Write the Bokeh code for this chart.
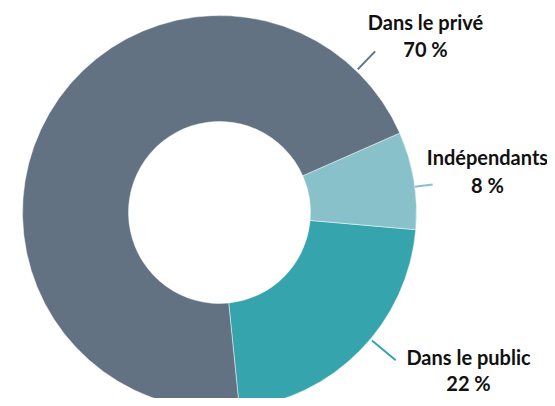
import math
from bokeh.plotting import figure
from bokeh.models import Range1d, ColumnDataSource
from bokeh.core.properties import value
from bokeh.embed import file_html
from bokeh.resources import INLINE

# data (drawn anticlockwise starting at the bottom)
categories = ["Dans le public", "Indépendants", "Dans le privé"]
shares = [22, 8, 70]
pct_labels = ["22 %", "8 %", "70 %"]
colors = ["#35a4ac", "#88c1c9", "#627282"]

# layout constants
W, H = 547, 398
cx, cy = 219, 186
r_in, r_out = 91, 197
start_deg = -84.2
label_angle = [-40.0, 7.5, 46.0]        # leader line angles (deg)
leader_r = [(199, 230), (197, 215), (199, 224)]
label_pos = [(468, 42, 16), (487, 242, 214), (425, 377, 350)]  # x, baseline1, baseline2

total = sum(shares)
starts, ends = [], []
a = math.radians(start_deg)
for s in shares:
    starts.append(a)
    a += 2 * math.pi * s / total
    ends.append(a)

src = ColumnDataSource(dict(start=starts, end=ends, color=colors))

p = figure(width=W, height=H, output_backend="svg", toolbar_location=None,
           x_range=Range1d(0, W), y_range=Range1d(0, H), min_border=0)
p.axis.visible = False
p.grid.visible = False
p.outline_line_color = None
p.background_fill_color = "white"

p.annular_wedge(x=cx, y=cy, inner_radius=r_in, outer_radius=r_out,
                start_angle="start", end_angle="end", direction="anticlock",
                fill_color="color", line_color="white", line_width=0.8, line_alpha=0.6,
                source=src)

font = value("Lato")
for i in range(3):
    ang = math.radians(label_angle[i])
    r0, r1 = leader_r[i]
    p.line([cx + r0 * math.cos(ang), cx + r1 * math.cos(ang)],
           [cy + r0 * math.sin(ang), cy + r1 * math.sin(ang)],
           line_color=colors[i], line_width=2)
    x, b1, b2 = label_pos[i]
    p.text(x=[x, x], y=[b1, b2], text=[categories[i], pct_labels[i]],
           text_font=font, text_font_style="bold", text_font_size="20px",
           text_align="center", text_baseline="alphabetic", text_color="#111111")

open("out.html", "w").write(file_html(p, INLINE))
